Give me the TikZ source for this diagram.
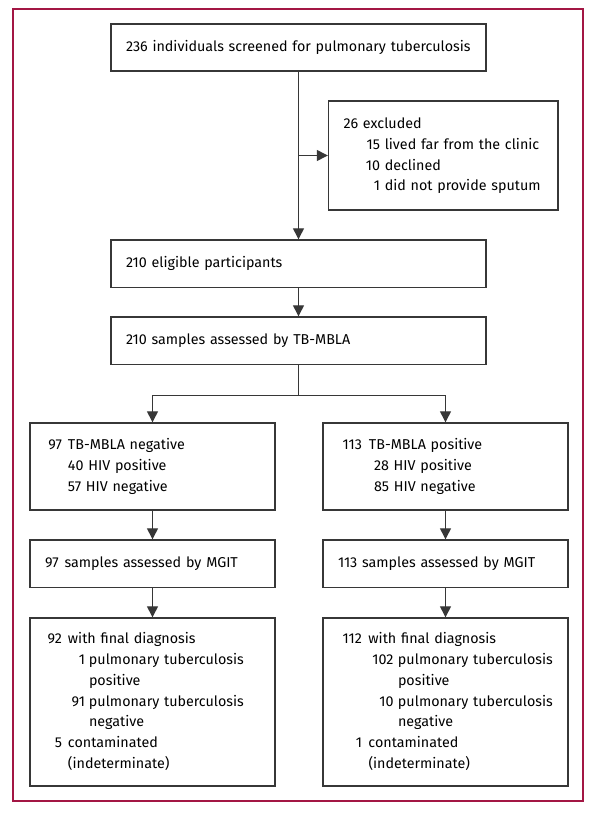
\documentclass[tikz,border=0pt]{standalone}
\usepackage{fontspec}
\setmainfont{Fira Sans}
\usetikzlibrary{arrows.meta}
\definecolor{framered}{RGB}{163,22,68}
\definecolor{boxline}{RGB}{55,55,55}
\newcommand{\fs}{\fontsize{14.3}{20.8}\selectfont}
\newcommand{\rn}[2]{\makebox[#1][r]{#2}}
\begin{document}
\begin{tikzpicture}[x=1pt,y=-1pt,
  box/.style={draw=boxline,line width=1.4pt,inner xsep=15pt,inner ysep=0pt,align=left,font=\fs},
  arr/.style={draw=boxline,line width=1.3pt,-{Triangle[length=11pt,width=11pt]}},
  link/.style={draw=boxline,line width=1.3pt}]
\useasboundingbox (0,0) rectangle (596,814);
\draw[framered,line width=1.3pt] (13,9) rectangle (583,801);
% main column
\node[box,text width=345pt,minimum height=47pt] (screen) at (298.5,47.5)
  {236 individuals screened for pulmonary tuberculosis};
\node[box,text width=199.5pt,minimum height=109pt] (excl) at (443.25,155.5)
  {\begin{tabular}{@{}l@{}}
   26 excluded\\
   \hspace*{20.5pt}\rn{16pt}{15} lived far from the clinic\\
   \hspace*{20.5pt}\rn{16pt}{10} declined\\
   \hspace*{20.5pt}\rn{16pt}{1} did not provide sputum
   \end{tabular}};
\node[box,text width=345pt,minimum height=47.5pt] (elig) at (298.5,263.75)
  {210 eligible participants};
\node[box,text width=345pt,minimum height=47.5pt] (mbla) at (298.5,340.75)
  {210 samples assessed by TB-MBLA};
% left branch
\node[box,text width=215pt,minimum height=87pt] (neg) at (152.5,466.5)
  {\begin{tabular}{@{}l@{}}
   \rn{17pt}{97}\hspace{6pt}TB-MBLA negative\\
   \hspace*{23pt}40 HIV positive\\
   \hspace*{23pt}57 HIV negative
   \end{tabular}};
\node[box,text width=215pt,minimum height=47.5pt] (negmgit) at (152.5,563.75)
  {97\hspace{6pt}samples assessed by MGIT};
\node[box,text width=215pt,minimum height=168pt] (negdx) at (152.5,702)
  {\begin{tabular}{@{}l@{}}
   \rn{17pt}{92}\hspace{6pt}with final diagnosis\\
   \hspace*{23pt}\rn{17pt}{1}\hspace{4pt}pulmonary tuberculosis\\
   \hspace*{44pt}positive\\
   \hspace*{23pt}\rn{17pt}{91}\hspace{4pt}pulmonary tuberculosis\\
   \hspace*{44pt}negative\\
   \rn{17pt}{5}\hspace{6pt}contaminated\\
   \hspace*{23pt}(indeterminate)
   \end{tabular}};
% right branch
\node[box,text width=215pt,minimum height=87pt] (pos) at (445.5,466.5)
  {\begin{tabular}{@{}l@{}}
   \rn{24pt}{113}\hspace{7pt}TB-MBLA positive\\
   \hspace*{36pt}28 HIV positive\\
   \hspace*{36pt}85 HIV negative
   \end{tabular}};
\node[box,text width=215pt,minimum height=47.5pt] (posmgit) at (445.5,563.75)
  {113 samples assessed by MGIT};
\node[box,text width=215pt,minimum height=168pt] (posdx) at (445.5,702)
  {\begin{tabular}{@{}l@{}}
   \rn{24pt}{112}\hspace{6.5pt}with final diagnosis\\
   \hspace*{30.5pt}\rn{25pt}{102}\hspace{4.5pt}pulmonary tuberculosis\\
   \hspace*{60pt}positive\\
   \hspace*{30.5pt}\rn{25pt}{10}\hspace{4.5pt}pulmonary tuberculosis\\
   \hspace*{60pt}negative\\
   \rn{24pt}{1}\hspace{6.5pt}contaminated\\
   \hspace*{30.5pt}(indeterminate)
   \end{tabular}};
% connectors
\coordinate (fork) at (298.5,395.3);
\draw[arr] (screen.south) -- (elig.north);
\draw[arr] (screen.south |- excl.west) -- (excl.west);
\draw[arr] (elig.south) -- (mbla.north);
\draw[link] (mbla.south) -- (fork);
\draw[arr] (fork) -| (neg.north);
\draw[arr] (fork) -| (pos.north);
\draw[arr] (neg.south) -- (negmgit.north);
\draw[arr] (pos.south) -- (posmgit.north);
\draw[arr] (negmgit.south) -- (negdx.north);
\draw[arr] (posmgit.south) -- (posdx.north);
\end{tikzpicture}
\end{document}
